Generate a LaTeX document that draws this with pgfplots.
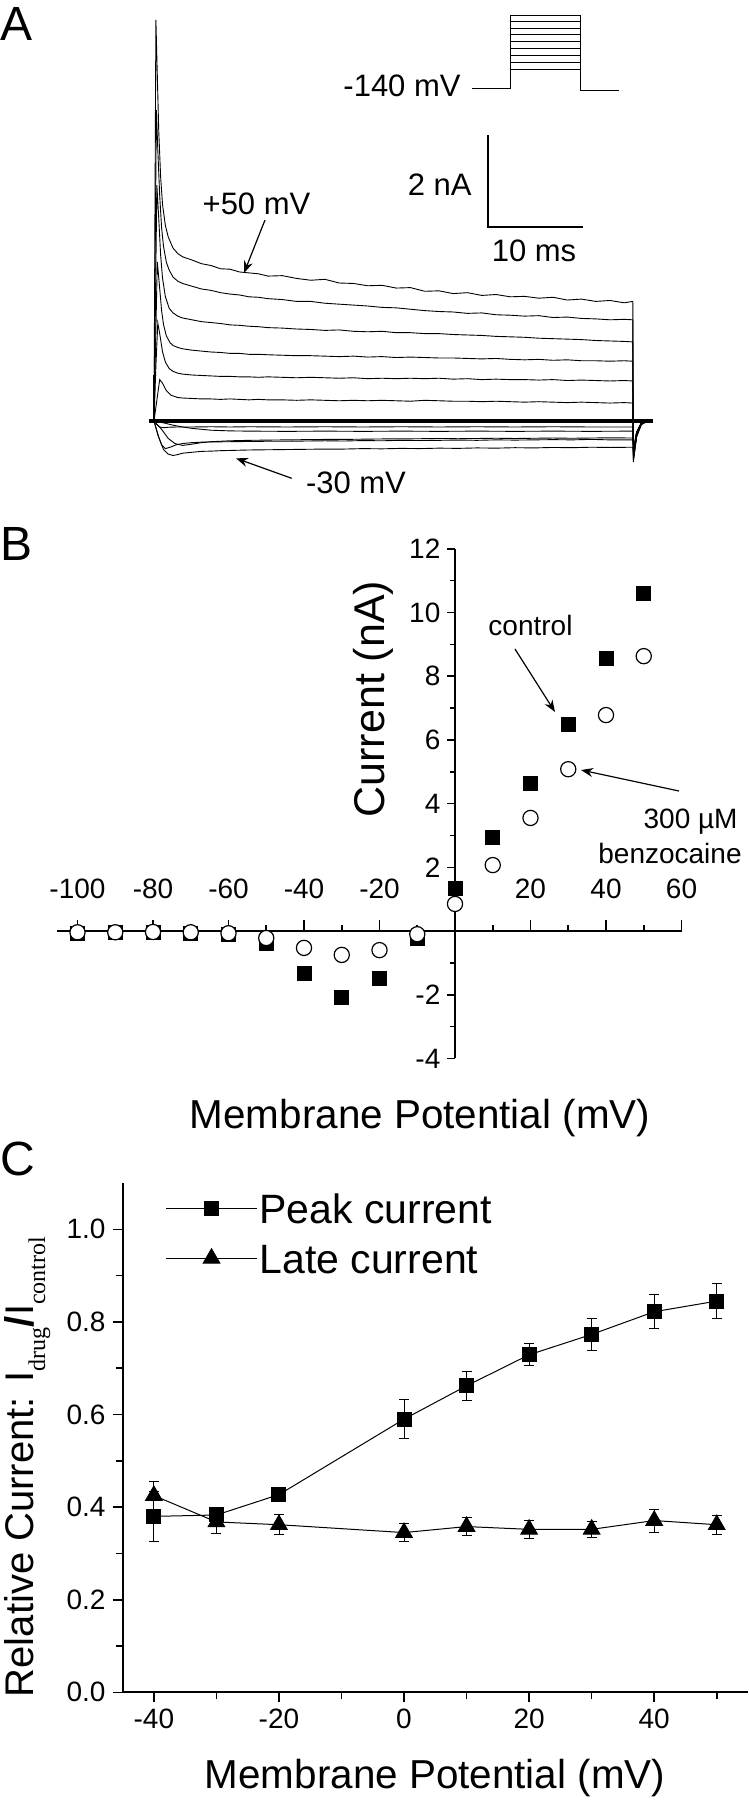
\documentclass[border=0pt]{standalone}
\usepackage{pgfplots}
\pgfplotsset{compat=1.18}
\usepackage{fontspec}
\setmainfont{Liberation Sans}
\newfontfamily\seriffont{Liberation Serif}
\usetikzlibrary{arrows.meta}
\pgfplotsset{tr/.style={black, line width=0.45pt, mark=none}}
\begin{document}
\begin{tikzpicture}
\path[use as bounding box] (0pt,0pt) rectangle (374.5pt,-900pt);

% ================= Panel A =================
\begin{axis}[
  at={(74.625pt,-233.5pt)}, anchor=south west,
  scale only axis, width=251.75pt, height=230pt,
  xmin=-0.5, xmax=52.5, ymin=-1, ymax=9,
  hide axis, clip=false,
]
\addplot[black, line width=2pt, mark=none] coordinates {(-0.5,0) (52.5,0)};
\addplot[black, line width=1.2pt, mark=none] coordinates {(0,0) (0,1.0)};
% +50 mV
\addplot[tr] coordinates {(0,0) (0.1,4.5) (0.2,8.72) (0.35,7.5) (0.5,6.3) (0.7,5.3) (0.9,4.7) (1.2,4.25) (1.5,4.0) (2,3.76) (2.5,3.64) (3,3.57) (4,3.5) (5,3.42) (6,3.38) (7,3.31) (8,3.3) (9,3.24) (10,3.22) (11,3.2) (12,3.15) (13.5,3.16) (15,3.1) (16.5,3.06) (18,3.08) (19.5,3.0) (21,2.99) (22.5,2.94) (24,2.95) (25.5,2.89) (27,2.9) (28.5,2.82) (30,2.83) (31.5,2.77) (33,2.79) (34.5,2.73) (36,2.75) (37.5,2.7) (39,2.71) (40.5,2.67) (42,2.69) (43.5,2.63) (45,2.65) (46.5,2.6) (48,2.62) (49.5,2.57) (50.4,2.6) (50.45,-0.89) (50.8,-0.35) (51.3,-0.08) (52,0)};
% +40 mV
\addplot[tr] coordinates {(0,0) (0.1,3.0) (0.25,6.76) (0.4,5.9) (0.6,4.9) (0.8,4.2) (1.0,3.8) (1.3,3.45) (1.6,3.28) (2,3.13) (2.5,3.04) (3,2.99) (4,2.93) (5,2.87) (6,2.84) (7,2.79) (8,2.76) (9,2.74) (10,2.7) (11,2.69) (12,2.66) (13.5,2.64) (15,2.6) (16.5,2.6) (18,2.56) (19.5,2.54) (21,2.52) (22.5,2.5) (24,2.47) (25.5,2.46) (27,2.43) (28.5,2.4) (30,2.38) (31.5,2.37) (33,2.34) (34.5,2.35) (36,2.31) (37.5,2.3) (39,2.28) (40.5,2.29) (42,2.25) (43.5,2.26) (45,2.23) (46.5,2.22) (48,2.2) (49.5,2.21) (50.4,2.2) (50.45,-0.85) (50.8,-0.33) (51.3,-0.07) (52,0)};
% +30 mV
\addplot[tr] coordinates {(0,0) (0.15,2.5) (0.3,5.13) (0.5,4.4) (0.7,3.6) (0.9,3.1) (1.2,2.7) (1.6,2.45) (2,2.35) (2.5,2.28) (3,2.24) (4,2.2) (5,2.16) (6,2.14) (7,2.12) (8,2.09) (9,2.08) (10,2.06) (11,2.05) (12,2.03) (13.5,2.02) (15,2.0) (16.5,1.99) (18,1.97) (19.5,1.98) (21,1.95) (22.5,1.94) (24,1.95) (25.5,1.92) (27,1.92) (28.5,1.9) (30,1.9) (31.5,1.88) (33,1.87) (34.5,1.86) (36,1.84) (37.5,1.83) (39,1.82) (40.5,1.8) (42,1.79) (43.5,1.78) (45,1.77) (46.5,1.75) (48,1.74) (49.5,1.73) (50.4,1.72) (50.45,-0.8) (50.8,-0.3) (51.3,-0.06) (52,0)};
% +20 mV
\addplot[tr] coordinates {(0,0) (0.2,2.0) (0.35,3.46) (0.55,3.0) (0.8,2.4) (1.0,2.1) (1.3,1.85) (1.7,1.7) (2,1.64) (2.5,1.6) (3,1.57) (4,1.54) (5,1.52) (6,1.5) (7,1.49) (8,1.47) (9,1.47) (10,1.45) (11,1.45) (12,1.44) (13.5,1.43) (15,1.42) (16.5,1.42) (18,1.41) (19.5,1.4) (21,1.41) (22.5,1.39) (24,1.4) (25.5,1.38) (27,1.39) (28.5,1.38) (30,1.37) (31.5,1.37) (33,1.36) (34.5,1.35) (36,1.36) (37.5,1.34) (39,1.33) (40.5,1.34) (42,1.32) (43.5,1.33) (45,1.31) (46.5,1.31) (48,1.3) (49.5,1.31) (50.4,1.3) (50.45,-0.75) (50.8,-0.28) (51.3,-0.05) (52,0)};
% +10 mV
\addplot[tr] coordinates {(0,0) (0.2,1.2) (0.4,2.13) (0.6,1.9) (0.9,1.5) (1.2,1.28) (1.6,1.14) (2,1.08) (2.5,1.04) (3,1.02) (4,1.0) (5,0.99) (6,0.98) (7,0.97) (8,0.97) (9,0.96) (10,0.96) (11,0.95) (12,0.96) (13.5,0.95) (15,0.94) (16.5,0.95) (18,0.94) (19.5,0.93) (21,0.94) (22.5,0.92) (24,0.93) (25.5,0.92) (27,0.93) (28.5,0.92) (30,0.93) (31.5,0.91) (33,0.92) (34.5,0.9) (36,0.91) (37.5,0.9) (39,0.9) (40.5,0.89) (42,0.9) (43.5,0.88) (45,0.89) (46.5,0.88) (48,0.87) (49.5,0.88) (50.4,0.87) (50.45,-0.7) (50.8,-0.26) (51.3,-0.05) (52,0)};
% 0 mV
\addplot[tr] coordinates {(0,0) (0.3,0.45) (0.6,0.9) (0.9,0.82) (1.3,0.66) (1.8,0.56) (2.5,0.51) (3,0.5) (4,0.49) (5,0.48) (6,0.48) (7,0.47) (8,0.48) (9,0.47) (10,0.46) (11,0.47) (12,0.46) (13.5,0.46) (15,0.45) (16.5,0.46) (18,0.45) (19.5,0.44) (21,0.45) (22.5,0.44) (24,0.45) (25.5,0.44) (27,0.43) (28.5,0.45) (30,0.44) (31.5,0.43) (33,0.43) (34.5,0.42) (36,0.43) (37.5,0.42) (39,0.41) (40.5,0.42) (42,0.41) (43.5,0.4) (45,0.41) (46.5,0.4) (48,0.39) (49.5,0.4) (50.4,0.39) (50.45,-0.65) (50.8,-0.24) (51.3,-0.04) (52,0)};
% -10 mV
\addplot[tr] coordinates {(0,0) (0.3,-0.08) (0.6,-0.13) (1,-0.145) (1.6,-0.135) (2.5,-0.13) (4,-0.13) (6,-0.125) (8,-0.13) (10,-0.125) (14,-0.13) (18,-0.125) (22,-0.13) (26,-0.125) (30,-0.13) (34,-0.125) (38,-0.13) (42,-0.125) (46,-0.13) (50.4,-0.13) (50.5,-0.6) (50.8,-0.25) (51.3,-0.04) (52,0)};
% -20 mV
\addplot[tr] coordinates {(0,0) (0.4,-0.3) (0.8,-0.52) (1.2,-0.6) (1.7,-0.57) (2.3,-0.52) (3,-0.49) (4,-0.47) (5,-0.46) (6,-0.455) (8,-0.45) (10,-0.445) (12,-0.44) (14,-0.44) (16,-0.435) (18,-0.43) (20,-0.435) (22,-0.425) (24,-0.43) (26,-0.42) (28,-0.425) (30,-0.42) (32,-0.415) (34,-0.42) (36,-0.41) (38,-0.415) (40,-0.41) (42,-0.405) (44,-0.41) (46,-0.4) (48,-0.41) (50.4,-0.41) (50.5,-0.7) (50.8,-0.3) (51.3,-0.05) (52,0)};
% -30 mV
\addplot[tr] coordinates {(0,0) (0.5,-0.35) (1,-0.62) (1.5,-0.72) (2,-0.75) (2.5,-0.73) (3,-0.7) (4,-0.68) (5,-0.66) (6,-0.655) (7,-0.645) (8,-0.64) (9,-0.635) (10,-0.63) (12,-0.625) (14,-0.62) (16,-0.615) (18,-0.61) (20,-0.61) (22,-0.6) (24,-0.605) (26,-0.595) (28,-0.6) (30,-0.59) (32,-0.595) (34,-0.585) (36,-0.59) (38,-0.58) (40,-0.585) (42,-0.575) (44,-0.58) (46,-0.57) (48,-0.575) (50.4,-0.57) (50.5,-0.8) (50.8,-0.32) (51.3,-0.05) (52,0)};
% -40 mV
\addplot[tr] coordinates {(0,0) (0.8,-0.18) (1.5,-0.38) (2.2,-0.49) (3,-0.53) (3.8,-0.51) (5,-0.47) (6,-0.45) (7,-0.44) (8,-0.43) (10,-0.42) (12,-0.415) (14,-0.41) (16,-0.405) (18,-0.4) (20,-0.4) (22,-0.395) (24,-0.39) (26,-0.39) (28,-0.385) (30,-0.38) (32,-0.385) (34,-0.38) (36,-0.375) (38,-0.38) (40,-0.375) (42,-0.37) (44,-0.375) (46,-0.37) (48,-0.365) (50.4,-0.37) (50.5,-0.7) (50.8,-0.3) (51.3,-0.05) (52,0)};
% -50 mV
\addplot[tr] coordinates {(0,0) (1,-0.04) (2,-0.09) (3,-0.13) (4,-0.16) (5,-0.18) (6,-0.2) (8,-0.215) (10,-0.22) (14,-0.225) (18,-0.22) (22,-0.225) (26,-0.22) (30,-0.225) (34,-0.22) (38,-0.225) (42,-0.22) (46,-0.225) (50.4,-0.22) (50.5,-0.6) (50.8,-0.25) (51.3,-0.04) (52,0)};
\end{axis}

% ================= Panel B =================
\begin{axis}[
  at={(28.5pt,-529.2pt)}, anchor=south west,
  scale only axis, width=312.25pt, height=254.8pt,
  xmin=-105.43, xmax=60, ymin=-4, ymax=12,
  axis lines=middle, axis line style={-, line width=1pt, black},
  xtick={-100,-80,-60,-40,-20,20,40,60},
  xticklabels={-100,-80,-60,-40,-20,20,40,60},
  ytick={-4,-2,2,4,6,8,10,12},
  yticklabels={-4,-2,2,4,6,8,10,12},
  major tick length=0pt, minor tick length=0pt,
  tick style={draw=none},
  xticklabel style={anchor=base, yshift=16.5pt},
  yticklabel style={anchor=east, xshift=-3.8pt},
  tick label style={font=\fontsize{14}{16}\selectfont},
  clip=false,
]
\pgfplotsinvokeforeach{-100,-80,-60,-40,-20,20,40,60}{\draw[line width=0.8pt] (axis cs:#1,0) -- (axis cs:#1,0.35);}
\pgfplotsinvokeforeach{-90,-70,-50,-30,-10,10,30,50}{\draw[line width=0.8pt] (axis cs:#1,0) -- (axis cs:#1,0.19);}
\pgfplotsinvokeforeach{-4,-2,2,4,6,8,10,12}{\draw[line width=0.8pt] (axis cs:0,#1) -- (axis cs:-2.12,#1);}
\pgfplotsinvokeforeach{-3,-1,1,3,5,7,9,11}{\draw[line width=0.8pt] (axis cs:0,#1) -- (axis cs:-1.32,#1);}
% control
\addplot[only marks, mark=square*, mark size=3.5pt, black] coordinates {(-100,-0.06) (-90,-0.04) (-80,-0.03) (-70,-0.08) (-60,-0.12) (-50,-0.38) (-40,-1.32) (-30,-2.1) (-20,-1.48) (-10,-0.22) (0,1.35) (10,2.95) (20,4.65) (30,6.5) (40,8.57) (50,10.6)};
% 300 uM benzocaine
\addplot[only marks, mark=*, mark size=3.8pt, mark options={fill=white, draw=black, line width=0.6pt}] coordinates {(-100,-0.04) (-90,-0.04) (-80,-0.03) (-70,-0.04) (-60,-0.07) (-50,-0.22) (-40,-0.53) (-30,-0.75) (-20,-0.6) (-10,-0.1) (0,0.85) (10,2.07) (20,3.55) (30,5.08) (40,6.78) (50,8.63)};
\end{axis}

% ================= Panel C =================
\begin{axis}[
  at={(61.3pt,-846.15pt)}, anchor=south west,
  scale only axis, width=312.7pt, height=254.65pt,
  xmin=-45, xmax=55, ymin=0, ymax=1.1,
  axis x line*=bottom, axis y line*=left,
  axis line style={line width=0.9pt, black},
  xtick={-40,-20,0,20,40}, xticklabels={-40,-20,0,20,40},
  minor xtick={-30,-10,10,30,50},
  ytick={0,0.2,0.4,0.6,0.8,1.0}, yticklabels={0.0,0.2,0.4,0.6,0.8,1.0},
  minor ytick={0.1,0.3,0.5,0.7,0.9},
  tick align=outside, major tick length=5pt, minor tick length=3.5pt,
  tick style={line width=0.8pt, black},
  tick label style={font=\fontsize{14}{16}\selectfont},
  clip=false,
  legend style={at={(axis cs:-38.2,1.083)}, anchor=north west, draw=none, fill=none,
     inner sep=0pt, row sep=8pt, font=\fontsize{20.5}{22}\selectfont,
     nodes={inner sep=1pt, text height=15pt, text depth=0pt}},
  legend cell align=left,
  legend image code/.code={%
     \draw (0pt,0pt) -- (14pt,0pt) (31.5pt,0pt) -- (45.5pt,0pt);
     \path[mark repeat=2,mark phase=2] plot coordinates {(0pt,0pt) (22.75pt,0pt) (45.5pt,0pt)};},
]
\addplot[black, line width=0.5pt, mark=square*, mark size=3.5pt, mark options={solid},
  error bars/.cd, y dir=both, y explicit, error mark=-,
  error mark options={rotate=90, black, mark size=2.5pt, line width=0.45pt},
  error bar style={line width=0.45pt}]
  coordinates {(-40,0.38) +- (0,0.054) (-30,0.383) +- (0,0.012) (-20,0.427) +- (0,0.01) (0,0.59) +- (0,0.042) (10,0.662) +- (0,0.032) (20,0.729) +- (0,0.024) (30,0.773) +- (0,0.034) (40,0.822) +- (0,0.037) (50,0.845) +- (0,0.038)};
\addlegendentry{Peak current}
\addplot[black, line width=0.5pt, mark=triangle*, mark size=4.75pt, mark options={solid},
  error bars/.cd, y dir=both, y explicit, error mark=-,
  error mark options={rotate=90, black, mark size=2.5pt, line width=0.45pt},
  error bar style={line width=0.45pt}]
  coordinates {(-40,0.425) +- (0,0.03) (-30,0.368) +- (0,0.024) (-20,0.362) +- (0,0.022) (0,0.345) +- (0,0.019) (10,0.358) +- (0,0.02) (20,0.352) +- (0,0.02) (30,0.352) +- (0,0.018) (40,0.371) +- (0,0.025) (50,0.362) +- (0,0.02)};
\addlegendentry{Late current}
\end{axis}

% ================= Annotations (pixel units) =================
\begin{scope}[x=0.5pt, y=-0.5pt]
\tikzset{lab/.style={inner sep=0pt, font=\fontsize{24}{26}\selectfont},
         ann/.style={inner sep=0pt, font=\fontsize{15.5}{18}\selectfont},
         annb/.style={inner sep=0pt, font=\fontsize{14}{16}\selectfont},
         arr/.style={-{Stealth[length=6pt,width=4.5pt]}, line width=0.6pt}}
\node[lab, anchor=base west] at (0,40) {A};
\node[lab, anchor=base west] at (0,560) {B};
\node[lab, anchor=base west] at (0,1175) {C};
% protocol
\draw[line width=0.5pt] (472.3,88.7) -- (510,88.7) -- (510,15.7) -- (580.7,15.7) -- (580.7,90.3) -- (619.3,90.3);
\foreach \yy in {21.7,28.3,34.3,41,48.3,55,62.3,69} {\draw[line width=0.5pt] (510,\yy) -- (580.7,\yy);}
\node[ann, anchor=base east] at (461,96.5) {-140 mV};
% scale bars
\draw[line width=0.6pt] (488,135) -- (488,227) -- (583,227);
\node[ann, anchor=base east] at (472,195) {2 nA};
\node[ann, anchor=base] at (534,261.5) {10 ms};
\node[ann, anchor=base] at (256.5,214) {+50 mV};
\draw[arr] (265,220) -- (244,273);
\node[ann, anchor=base] at (356,493) {-30 mV};
\draw[arr] (291.7,478.3) -- (236,458.3);
% panel B labels
\node[inner sep=0pt, font=\fontsize{21.5}{24}\selectfont, rotate=90, anchor=base] at (384,699) {Current (nA)};
\node[inner sep=0pt, font=\fontsize{20.2}{24}\selectfont, anchor=base] at (420,1128) {Membrane Potential (mV)};
\node[annb, anchor=base] at (530.5,635) {control};
\draw[arr] (515,649) -- (555,712);
\node[annb, anchor=base east] at (738,828.3) {300 µM};
\node[annb, anchor=base east] at (742,863.3) {benzocaine};
\draw[arr] (679,791) -- (581,770);
% panel C labels
\node[inner sep=0pt, font=\fontsize{20}{24}\selectfont, rotate=90, anchor=base] at (33,1467) {Relative Current: I\raisebox{-6pt}{\seriffont\fontsize{12}{14}\selectfont drug}\textbf{/}I\raisebox{-6pt}{\seriffont\fontsize{12}{14}\selectfont control}};
\node[inner sep=0pt, font=\fontsize{20.2}{24}\selectfont, anchor=base] at (435,1788) {Membrane Potential (mV)};
\end{scope}
\end{tikzpicture}
\end{document}
